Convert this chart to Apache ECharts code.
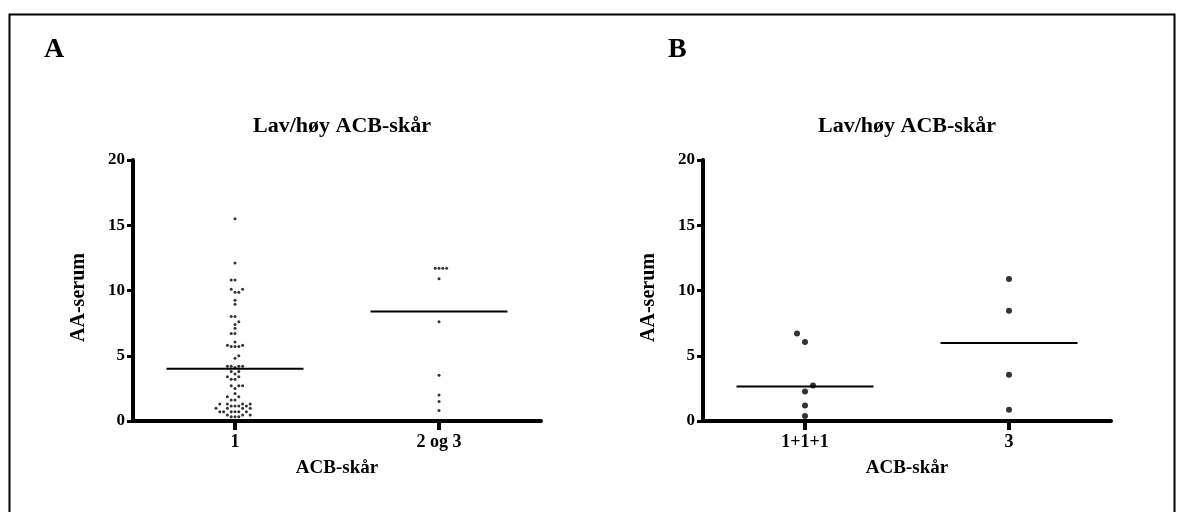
<!DOCTYPE html>
<html>
<head>
<meta charset="utf-8">
<script src="https://cdn.jsdelivr.net/npm/echarts@6/dist/echarts.min.js"></script>
<style>
html,body{margin:0;padding:0;background:#fff;}
#c{width:1179px;height:512px;}
</style>
</head>
<body>
<div id="c"></div>
<script>
// ---- data ----
const panelLetters = ['A', 'B'];
const panelTitle = 'Lav/høy ACB-skår';
const xAxisName = 'ACB-skår';
const yAxisName = 'AA-serum';
const categoriesA = ['1', '2 og 3'];
const categoriesB = ['1+1+1', '3'];
const yMin = 0, yMax = 20, yStep = 5;

const aGroup1 = [15.5, 12.1, 10.8, 10.8, 10.1, 10.1, 9.86, 9.86, 9.25, 8.94,
  8.0, 8.0, 7.6, 7.4, 7.1, 6.7, 6.7, 6.06, 5.8, 5.8, 5.7, 5.7, 5.7, 5.0, 4.8,
  4.2, 4.2, 4.2, 4.2, 4.1, 3.8, 3.8, 3.6, 3.4, 3.4, 3.2, 3.2, 2.7, 2.7, 2.7,
  2.5, 2.1, 1.86, 1.86, 1.6, 1.6, 1.3, 1.3, 1.3, 1.3, 1.15, 1.15, 1.15, 1.15,
  0.97, 0.97, 0.97, 0.97, 0.71, 0.71, 0.71, 0.71, 0.71, 0.71, 0.46, 0.46, 0.46,
  0.33, 0.33, 0.33];
const aGroup2 = [11.7, 11.7, 11.7, 11.7, 10.9, 7.6, 3.5, 2.0, 1.5, 0.8];
const bGroup1 = [6.70, 6.06, 2.72, 2.26, 1.18, 0.39];
const bGroup2 = [10.89, 8.45, 3.54, 0.87];
const linesA = [4.0, 8.4];
const linesB = [2.65, 5.98];

// ---- layout ----
const FONT = 'Liberation Serif';
const grids = [
  {left: 133, top: 160, width: 408, height: 261},
  {left: 703, top: 160, width: 408, height: 261}
];

// deterministic beeswarm: spread points sideways so they do not overlap
function swarm(values, catIndex, grid, minDist, step) {
  const pxY = grid.height / (yMax - yMin);
  const pxX = grid.width / 2;
  const sorted = values.slice().sort((a, b) => a - b);
  const placed = [];
  let dir = 1;
  const out = [];
  sorted.forEach(v => {
    const py = v * pxY;
    for (let k = 0; k < 40; k++) {
      let off;
      if (k === 0) off = 0;
      else {
        const m = Math.ceil(k / 2);
        off = (k % 2 === 1 ? dir : -dir) * m * step;
      }
      const ok = placed.every(p => Math.hypot(p[0] - off, p[1] - py) >= minDist);
      if (ok) {
        placed.push([off, py]);
        if (off !== 0) dir = -dir;
        out.push([catIndex + 0.5 + off / pxX, v]);
        break;
      }
    }
  });
  return out;
}

function meanLine(catIndex, v, grid) {
  const half = 68.5 / (grid.width / 2);
  return [[catIndex + 0.5 - half, v], [catIndex + 0.5 + half, v]];
}

function catAxis(gridIndex, cats) {
  return {
    type: 'category', gridIndex, data: cats, boundaryGap: true,
    axisLine: {show: true, onZero: false, lineStyle: {color: '#000', width: 4}},
    axisTick: {show: true, alignWithLabel: true, length: 9, lineStyle: {color: '#000', width: 4}},
    axisLabel: {color: '#000', fontFamily: FONT, fontWeight: 'bold', fontSize: 18, margin: 12},
    name: xAxisName, nameLocation: 'middle', nameGap: 38,
    nameTextStyle: {color: '#000', fontFamily: FONT, fontWeight: 'bold', fontSize: 19},
    splitLine: {show: false}
  };
}
function hiddenX(gridIndex) {
  return {type: 'value', gridIndex, min: 0, max: 2, show: false, splitLine: {show: false}};
}
function valAxis(gridIndex) {
  return {
    type: 'value', gridIndex, min: yMin, max: yMax, interval: yStep,
    axisLine: {show: true, lineStyle: {color: '#000', width: 4}},
    axisTick: {show: true, length: 6, lineStyle: {color: '#000', width: 3}},
    axisLabel: {color: '#000', fontFamily: FONT, fontWeight: 'bold', fontSize: 17, margin: 8},
    name: yAxisName, nameLocation: 'middle', nameGap: 44, nameRotate: 90,
    nameTextStyle: {color: '#000', fontFamily: FONT, fontWeight: 'bold', fontSize: 20, padding: [0, 14, 0, 0]},
    splitLine: {show: false}
  };
}

const scatterStyle = {color: '#000'};
const lineSeries = (xi, yi, data) => ({
  type: 'line', xAxisIndex: xi, yAxisIndex: yi, data, symbol: 'none',
  lineStyle: {color: '#000', width: 2}, silent: true, z: 1
});

const option = {
  backgroundColor: '#fff',
  animation: false,
  title: [
    {text: panelLetters[0], left: 39, top: 31, textStyle: {fontFamily: FONT, fontWeight: 'bold', fontSize: 28, color: '#000'}},
    {text: panelLetters[1], left: 663, top: 31, textStyle: {fontFamily: FONT, fontWeight: 'bold', fontSize: 28, color: '#000'}},
    {text: panelTitle, left: 337, top: 110, textAlign: 'center', textStyle: {fontFamily: FONT, fontWeight: 'bold', fontSize: 22, color: '#000'}},
    {text: panelTitle, left: 902, top: 110, textAlign: 'center', textStyle: {fontFamily: FONT, fontWeight: 'bold', fontSize: 22, color: '#000'}}
  ],
  graphic: [{
    type: 'rect', left: 7, top: 12, shape: {width: 1165, height: 520},
    style: {fill: 'none', stroke: '#000', lineWidth: 2}, silent: true
  }],
  grid: grids,
  xAxis: [catAxis(0, categoriesA), hiddenX(0), catAxis(1, categoriesB), hiddenX(1)],
  yAxis: [valAxis(0), valAxis(1)],
  series: [
    {type: 'scatter', xAxisIndex: 1, yAxisIndex: 0, symbol: 'circle', symbolSize: 3,
      itemStyle: scatterStyle, data: swarm(aGroup1, 0, grids[0], 3.8, 3.8)},
    {type: 'scatter', xAxisIndex: 1, yAxisIndex: 0, symbol: 'circle', symbolSize: 3,
      itemStyle: scatterStyle, data: swarm(aGroup2, 1, grids[0], 3.8, 3.8)},
    lineSeries(1, 0, meanLine(0, linesA[0], grids[0])),
    lineSeries(1, 0, meanLine(1, linesA[1], grids[0])),
    {type: 'scatter', xAxisIndex: 3, yAxisIndex: 1, symbol: 'circle', symbolSize: 6,
      itemStyle: scatterStyle, data: swarm(bGroup1, 0, grids[1], 9, 8)},
    {type: 'scatter', xAxisIndex: 3, yAxisIndex: 1, symbol: 'circle', symbolSize: 6,
      itemStyle: scatterStyle, data: swarm(bGroup2, 1, grids[1], 9, 8)},
    lineSeries(3, 1, meanLine(0, linesB[0], grids[1])),
    lineSeries(3, 1, meanLine(1, linesB[1], grids[1]))
  ]
};

const chart = echarts.init(document.getElementById('c'), null, {renderer: 'canvas'});
chart.setOption(option);
</script>
</body>
</html>
